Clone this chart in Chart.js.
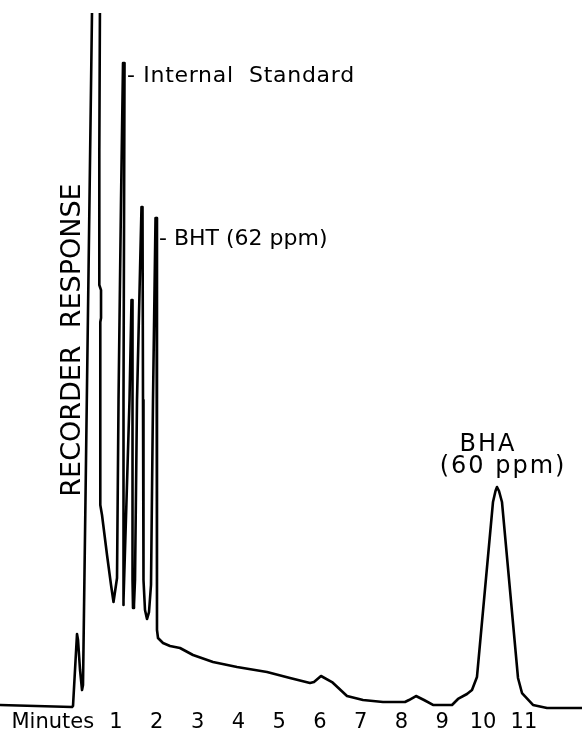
<!DOCTYPE html>
<html>
<head>
<meta charset="utf-8">
<script src="https://cdn.jsdelivr.net/npm/chart.js@4/dist/chart.umd.min.js"></script>
<style>
  html, body { margin: 0; padding: 0; background: #fff; }
  #wrap { width: 582px; height: 731px; }
</style>
</head>
<body>
<div id="wrap"><canvas id="c" width="582" height="731"></canvas></div>
<script>
// Retention time (minutes) and recorder response (% of full scale)
const minutes = [
  -1.844, -0.078, -0.054, -0.005, 0.044, 0.069, 0.118, 0.167, 0.191,
  0.419, 0.608, 0.591, 0.591, 0.633, 0.633, 0.615, 0.615, 0.657, 0.780, 0.878, 0.939,
  1.025, 1.062, 1.123, 1.172, 1.209, 1.184, 1.172,
  1.196, 1.258, 1.331, 1.380, 1.405, 1.405, 1.417,
  1.441, 1.466, 1.515, 1.625, 1.650, 1.662, 1.674, 1.711, 1.760,
  1.809, 1.858, 1.907, 1.969, 1.993, 2.005, 2.005, 2.030, 2.152, 2.324, 2.569,
  2.888, 3.378, 3.967, 4.702, 5.266, 5.756, 5.854, 6.026, 6.296, 6.663,
  7.056, 7.546, 8.085, 8.183, 8.355, 8.551, 8.772, 9.238, 9.385, 9.605, 9.728,
  9.850, 10.243, 10.304, 10.341, 10.390, 10.463, 10.856, 10.954, 11.223, 11.567, 12.42
];
const response = [
  0.43, 0.14, 0.29, 5.43, 10.57, 9.71, 5.43, 2.57, 3.29,
  102.6, 102.6, 79.71, 60.43, 59.71, 55.71, 55.14, 29.0, 27.57, 21.86, 17.57, 15.14,
  18.57, 44.0, 72.57, 92.14, 92.14, 44.0, 14.71,
  15.43, 29.71, 44.0, 58.29, 58.29, 18.29, 14.29,
  14.71, 18.29, 44.0, 71.57, 71.57, 44.0, 18.29, 14.0, 12.71,
  13.71, 17.57, 44.0, 70.0, 70.0, 44.0, 11.14, 10.0, 9.29, 8.86, 8.57,
  7.57, 6.57, 5.86, 5.14, 4.29, 3.57, 3.71, 4.57, 3.71, 1.71,
  1.14, 0.86, 0.86, 1.14, 1.71, 1.14, 0.43, 0.43, 1.29, 2.0, 2.57,
  4.43, 29.43, 31.0, 31.57, 31.0, 29.43, 4.29, 2.14, 0.43, 0.0, 0.0
];
const tickValues = [-0.55, 1, 2, 3, 4, 5, 6, 7, 8, 9, 10, 11];
const tickLabels = ['Minutes', '1', '2', '3', '4', '5', '6', '7', '8', '9', '10', '11'];

const peakLabels = [
  { text: '- Internal  Standard', x: 127, y: 82, size: 22, align: 'left', spacing: 0.7 },
  { text: '- BHT (62 ppm)', x: 159, y: 245, size: 22, align: 'left', spacing: 0 },
  { text: 'BHA', x: 488, y: 451, size: 24, align: 'center', spacing: 2 },
  { text: '(60 ppm)', x: 503, y: 473, size: 24, align: 'center', spacing: 2 }
];
const axisTitle = { text: 'RECORDER  RESPONSE', x: 80, y: 340, size: 27 };

const points = minutes.map((m, i) => ({ x: m, y: response[i] }));

const textPlugin = {
  id: 'texts',
  afterDraw(chart) {
    const ctx = chart.ctx;
    ctx.save();
    ctx.fillStyle = '#000';
    ctx.textBaseline = 'alphabetic';
    peakLabels.forEach(l => {
      ctx.font = l.size + 'px "DejaVu Sans"';
      ctx.letterSpacing = l.spacing + 'px';
      ctx.textAlign = l.align;
      ctx.fillText(l.text, l.x, l.y);
    });
    ctx.letterSpacing = '0px';
    ctx.translate(axisTitle.x, axisTitle.y);
    ctx.rotate(-Math.PI / 2);
    ctx.font = axisTitle.size + 'px "DejaVu Sans"';
    ctx.textAlign = 'center';
    ctx.fillText(axisTitle.text, 0, 0);
    ctx.restore();
  }
};

new Chart(document.getElementById('c'), {
  type: 'line',
  data: {
    datasets: [{
      data: points,
      borderColor: '#000',
      borderWidth: 2.6,
      pointRadius: 0,
      tension: 0,
      fill: false,
      clip: 0,
      borderJoinStyle: 'round',
      borderCapStyle: 'round'
    }]
  },
  options: {
    responsive: false,
    animation: false,
    layout: { padding: { top: 13, left: 0, right: 0, bottom: 0 } },
    plugins: { legend: { display: false }, tooltip: { enabled: false } },
    scales: {
      x: {
        type: 'linear',
        min: -1.844,
        max: 12.425,
        grid: { display: false },
        border: { display: false },
        afterFit(scale) { scale.height = 20; scale.paddingLeft = 0; scale.paddingRight = 0; },
        afterBuildTicks(scale) { scale.ticks = tickValues.map(v => ({ value: v })); },
        ticks: {
          autoSkip: false,
          maxRotation: 0,
          padding: -9,
          color: '#000',
          font: { family: 'DejaVu Sans', size: 21 },
          callback: (v, i) => tickLabels[i]
        }
      },
      y: {
        display: false,
        min: -0.43,
        max: 99.29
      }
    }
  },
  plugins: [textPlugin]
});
</script>
</body>
</html>
